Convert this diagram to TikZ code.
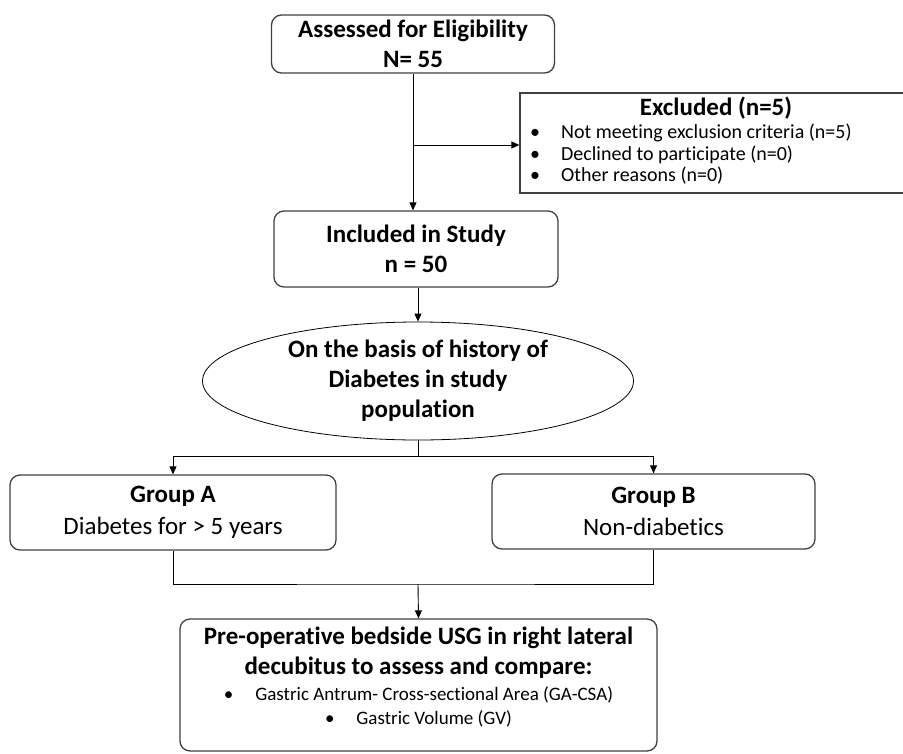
\documentclass[tikz,border=0pt]{standalone}
\usepackage{fontspec}
\setmainfont{Carlito}[RawFeature=-liga]
\usepackage{tikz}
\usetikzlibrary{arrows.meta,shapes.geometric}

\definecolor{edgegray}{RGB}{64,64,64}

\tikzset{
  roundbox/.style={draw=edgegray, line width=1.3pt, rounded corners=10pt, inner sep=0pt, align=center},
  squarebox/.style={draw=edgegray, line width=1.3pt, inner sep=0pt},
  basisellipse/.style={draw=black, line width=0.8pt, ellipse, inner sep=0pt, align=center},
  link/.style={draw=black, line width=0.9pt},
  arr/.style={link, -{Triangle[length=8pt,width=7pt]}},
  titlefont/.style={font=\fontsize{25}{30}\selectfont\bfseries},
  groupfont/.style={font=\fontsize{25}{32}\selectfont},
}

\begin{document}
\begin{tikzpicture}[x=1pt, y=-1pt]
			%%%%% START %%%%%
			\useasboundingbox (0, 0) rectangle (903, 753);
			
			\node[roundbox, titlefont, minimum width=283pt, minimum height=58pt] (elig) at (413, 44) {Assessed for Eligibility\\N= 55};
			
			\node[squarebox, minimum width=420pt, minimum height=100pt] (excl) at (730, 143) {};
			\node[font=\fontsize{25}{26}\selectfont\bfseries] (exclhead) at (716, 108) {Excluded (n=5)};
			\node[font=\fontsize{20}{21.5}\selectfont, align=left, anchor=north west, inner sep=0pt] (excllist) at (530, 124)
			{\textbullet\hspace{21pt}Not meeting exclusion criteria (n=5)\\
			 \textbullet\hspace{21pt}Declined to participate (n=0)\\
			 \textbullet\hspace{21pt}Other reasons (n=0)};
			
			\node[roundbox, titlefont, minimum width=284pt, minimum height=76pt] (incl) at (416, 249) {Included in Study\\n = 50};
			
			\node[basisellipse, titlefont, minimum width=431pt, minimum height=118pt] (basis) at (418, 381) {On the basis of history of\\Diabetes in study\\population};
			
			\node[roundbox, groupfont, minimum width=326pt, minimum height=75pt] (grpA) at (173, 512.5)
			{\textbf{Group A}\\Diabetes for > 5 years};
			\node[roundbox, groupfont, minimum width=323pt, minimum height=75pt] (grpB) at (653.5, 511.5)
			{\textbf{Group B}\\Non-diabetics};
			
			\node[roundbox, titlefont, minimum width=477pt, minimum height=132pt] (usg) at (418.5, 685)
			{Pre-operative bedside USG in right lateral\\
			 decubitus to assess and compare:\\[-4pt]
			 {\mdseries\fontsize{19}{24}\selectfont\textbullet\hspace{22pt}Gastric Antrum- Cross-sectional Area (GA-CSA)}\\[-6pt]
			 {\mdseries\fontsize{19}{24}\selectfont\textbullet\hspace{22pt}Gastric Volume (GV)}\rule[-18pt]{0pt}{0pt}};
			
			%% connectors
			\coordinate (split) at (413, 145);
			\coordinate (fork) at (418, 456);
			\coordinate (join) at (418, 584);
			
			\draw[arr] (elig.south) -- (elig.south |- incl.north);
			\draw[arr] (split) -- (split -| excl.west);
			\draw[arr] (incl.south -| basis.north) -- (basis.north);
			\draw[link] (basis.south) -- (fork);
			\draw[arr] (fork) -| (grpA.north);
			\draw[arr] (fork) -| (grpB.north);
			\draw[link] (grpA.south) |- (join) -| (grpB.south);
			\draw[arr] (join) -- (usg.north);
			
			%%%%% END %%%%%
\end{tikzpicture}
\end{document}
